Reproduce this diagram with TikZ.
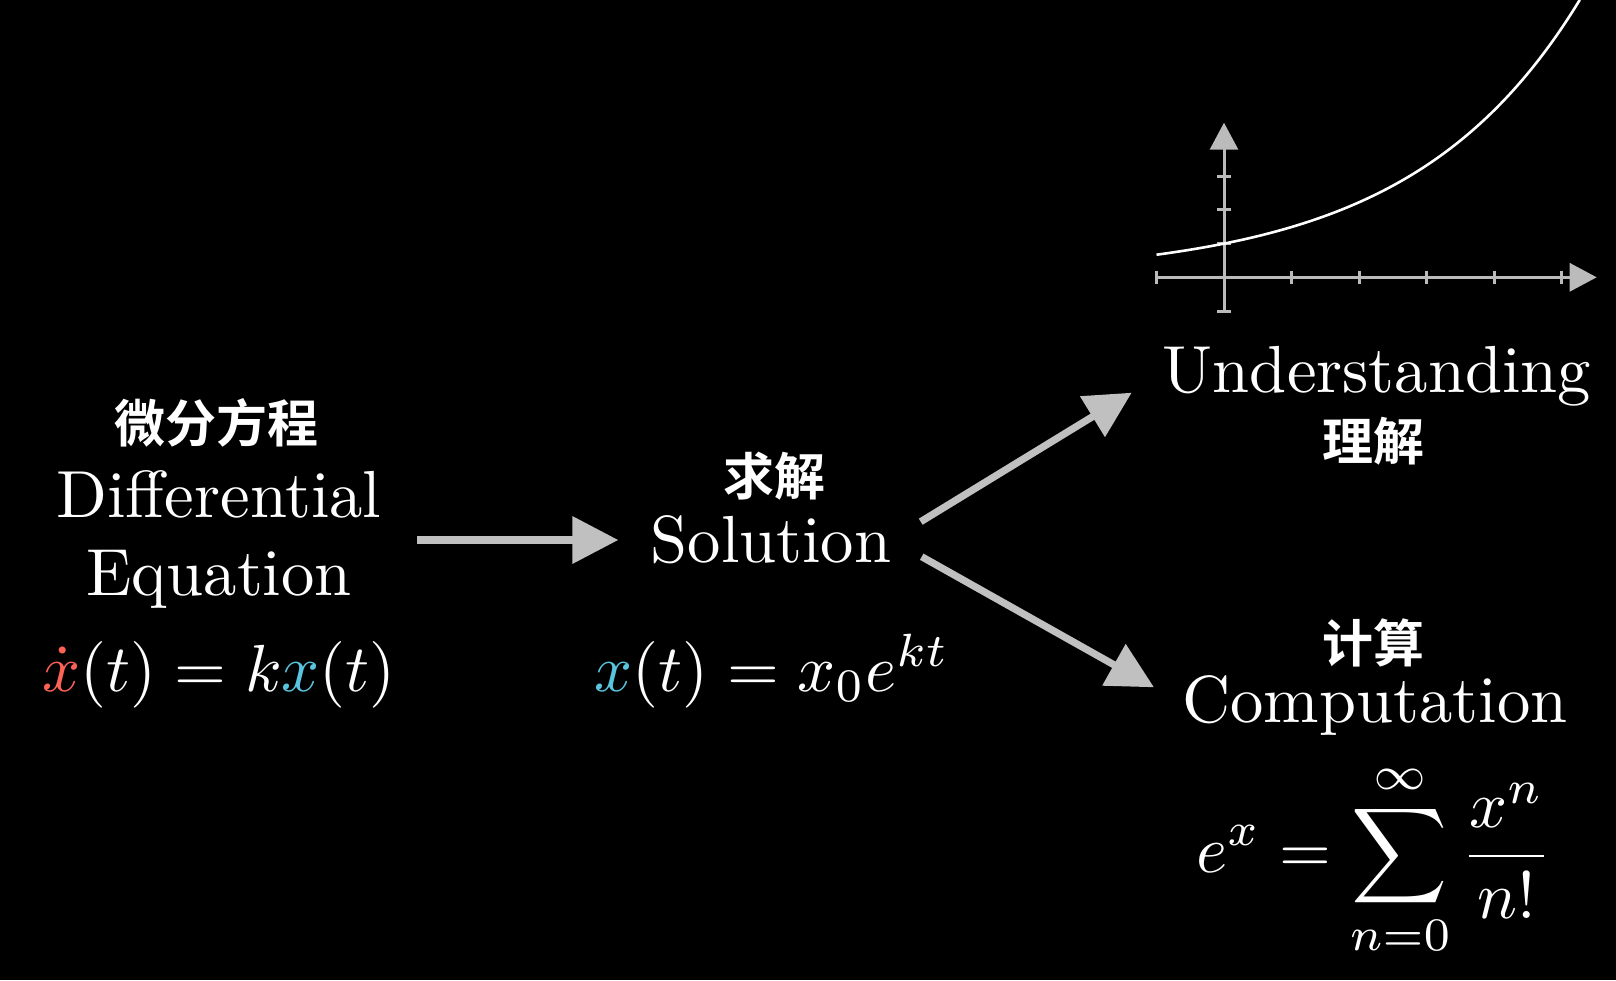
\documentclass[tikz,border=0pt]{standalone}
\usepackage{fontspec}
\newfontfamily\cjk{Noto Sans CJK SC}[BoldFont={Noto Sans CJK SC Bold}]
\usetikzlibrary{arrows.meta}
\definecolor{axisgray}{RGB}{187,187,187}
\definecolor{arrowgray}{RGB}{192,192,192}
\definecolor{mred}{RGB}{252,98,85}
\definecolor{mblue}{RGB}{88,196,221}
\tikzset{
  lbl/.style={text=white, inner sep=0pt, anchor=base, scale=3.33, font=\fontsize{10pt}{12pt}\selectfont},
  zh/.style={text=white, inner sep=0pt, anchor=center, font=\fontsize{25.5pt}{30pt}\selectfont\cjk\bfseries},
  bigarrow/.style={draw=arrowgray, line width=3.6pt, -{Triangle[length=23pt,width=23pt]}},
  axis/.style={draw=axisgray, line width=1.5pt},
  axisarrow/.style={axis, -{Triangle[length=13.5pt,width=14pt]}},
  tick/.style={draw=axisgray, line width=1.5pt},
  curve/.style={draw=white, line width=1.3pt}
}
\begin{document}
\begin{tikzpicture}[x=0.5pt,y=-0.5pt]
\fill[black] (0,0) rectangle (1616,980);
\useasboundingbox (0,0) rectangle (1616,980);

% graph
\coordinate (xl) at (1156,277.3);
\coordinate (xr) at (1596.7,277.3);
\coordinate (yb) at (1224,310.7);
\coordinate (yt) at (1224,122.7);
\draw[axisarrow] (xl) -- (xr);
\draw[axisarrow] (yb) -- (yt);
\foreach \i in {-1,1,2,3,4,5}
  \draw[tick] ({1224+67.5*\i},270.6) -- ({1224+67.5*\i},284);
\foreach \i in {-1,1,2,3}
  \draw[tick] (1217.3,{277.3-33.7*\i}) -- (1230.7,{277.3-33.7*\i});
\draw[curve] plot[domain=-1:5.27, samples=120, smooth] ({1224+67.5*\x},{277.3-33.7*exp(0.4*\x)});

% left block
\node[zh] (de zh) at (216,423) {微分方程};
\node[lbl] (de1) at (219,517) {Differential};
\node[lbl] (de2) at (219,595) {Equation};
\node[lbl] (deeq) at (219,691) {$\textcolor{mred}{\dot{x}}(t) = k\textcolor{mblue}{x}(t)$};

% middle block
\node[zh] (sol zh) at (774,476) {求解};
\node[lbl] (sol) at (771,562) {Solution};
\node[lbl] (soleq) at (772,691) {$\textcolor{mblue}{x}(t) = x_0 e^{kt}$};

% right top
\node[lbl] (und) at (1377,392) {Understanding};
\node[zh] (und zh) at (1373,441.5) {理解};

% right bottom
\node[zh] (comp zh) at (1373,642.5) {计算};
\node[lbl] (comp) at (1375,722) {Computation};
\node[lbl, anchor=center] (sum) at (1374,860) {$\displaystyle e^x = \sum_{n=0}^{\infty} \frac{x^n}{n!}$};

% arrows
\coordinate (a1s) at (417,540);
\coordinate (a1e) at (618.3,540);
\coordinate (a2s) at (920.7,521.7);
\coordinate (a2e) at (1131.7,392.7);
\coordinate (a3s) at (921.7,556.7);
\coordinate (a3e) at (1154,687.3);
\draw[bigarrow] (a1s) -- (a1e);
\draw[bigarrow] (a2s) -- (a2e);
\draw[bigarrow] (a3s) -- (a3e);
\end{tikzpicture}
\end{document}
